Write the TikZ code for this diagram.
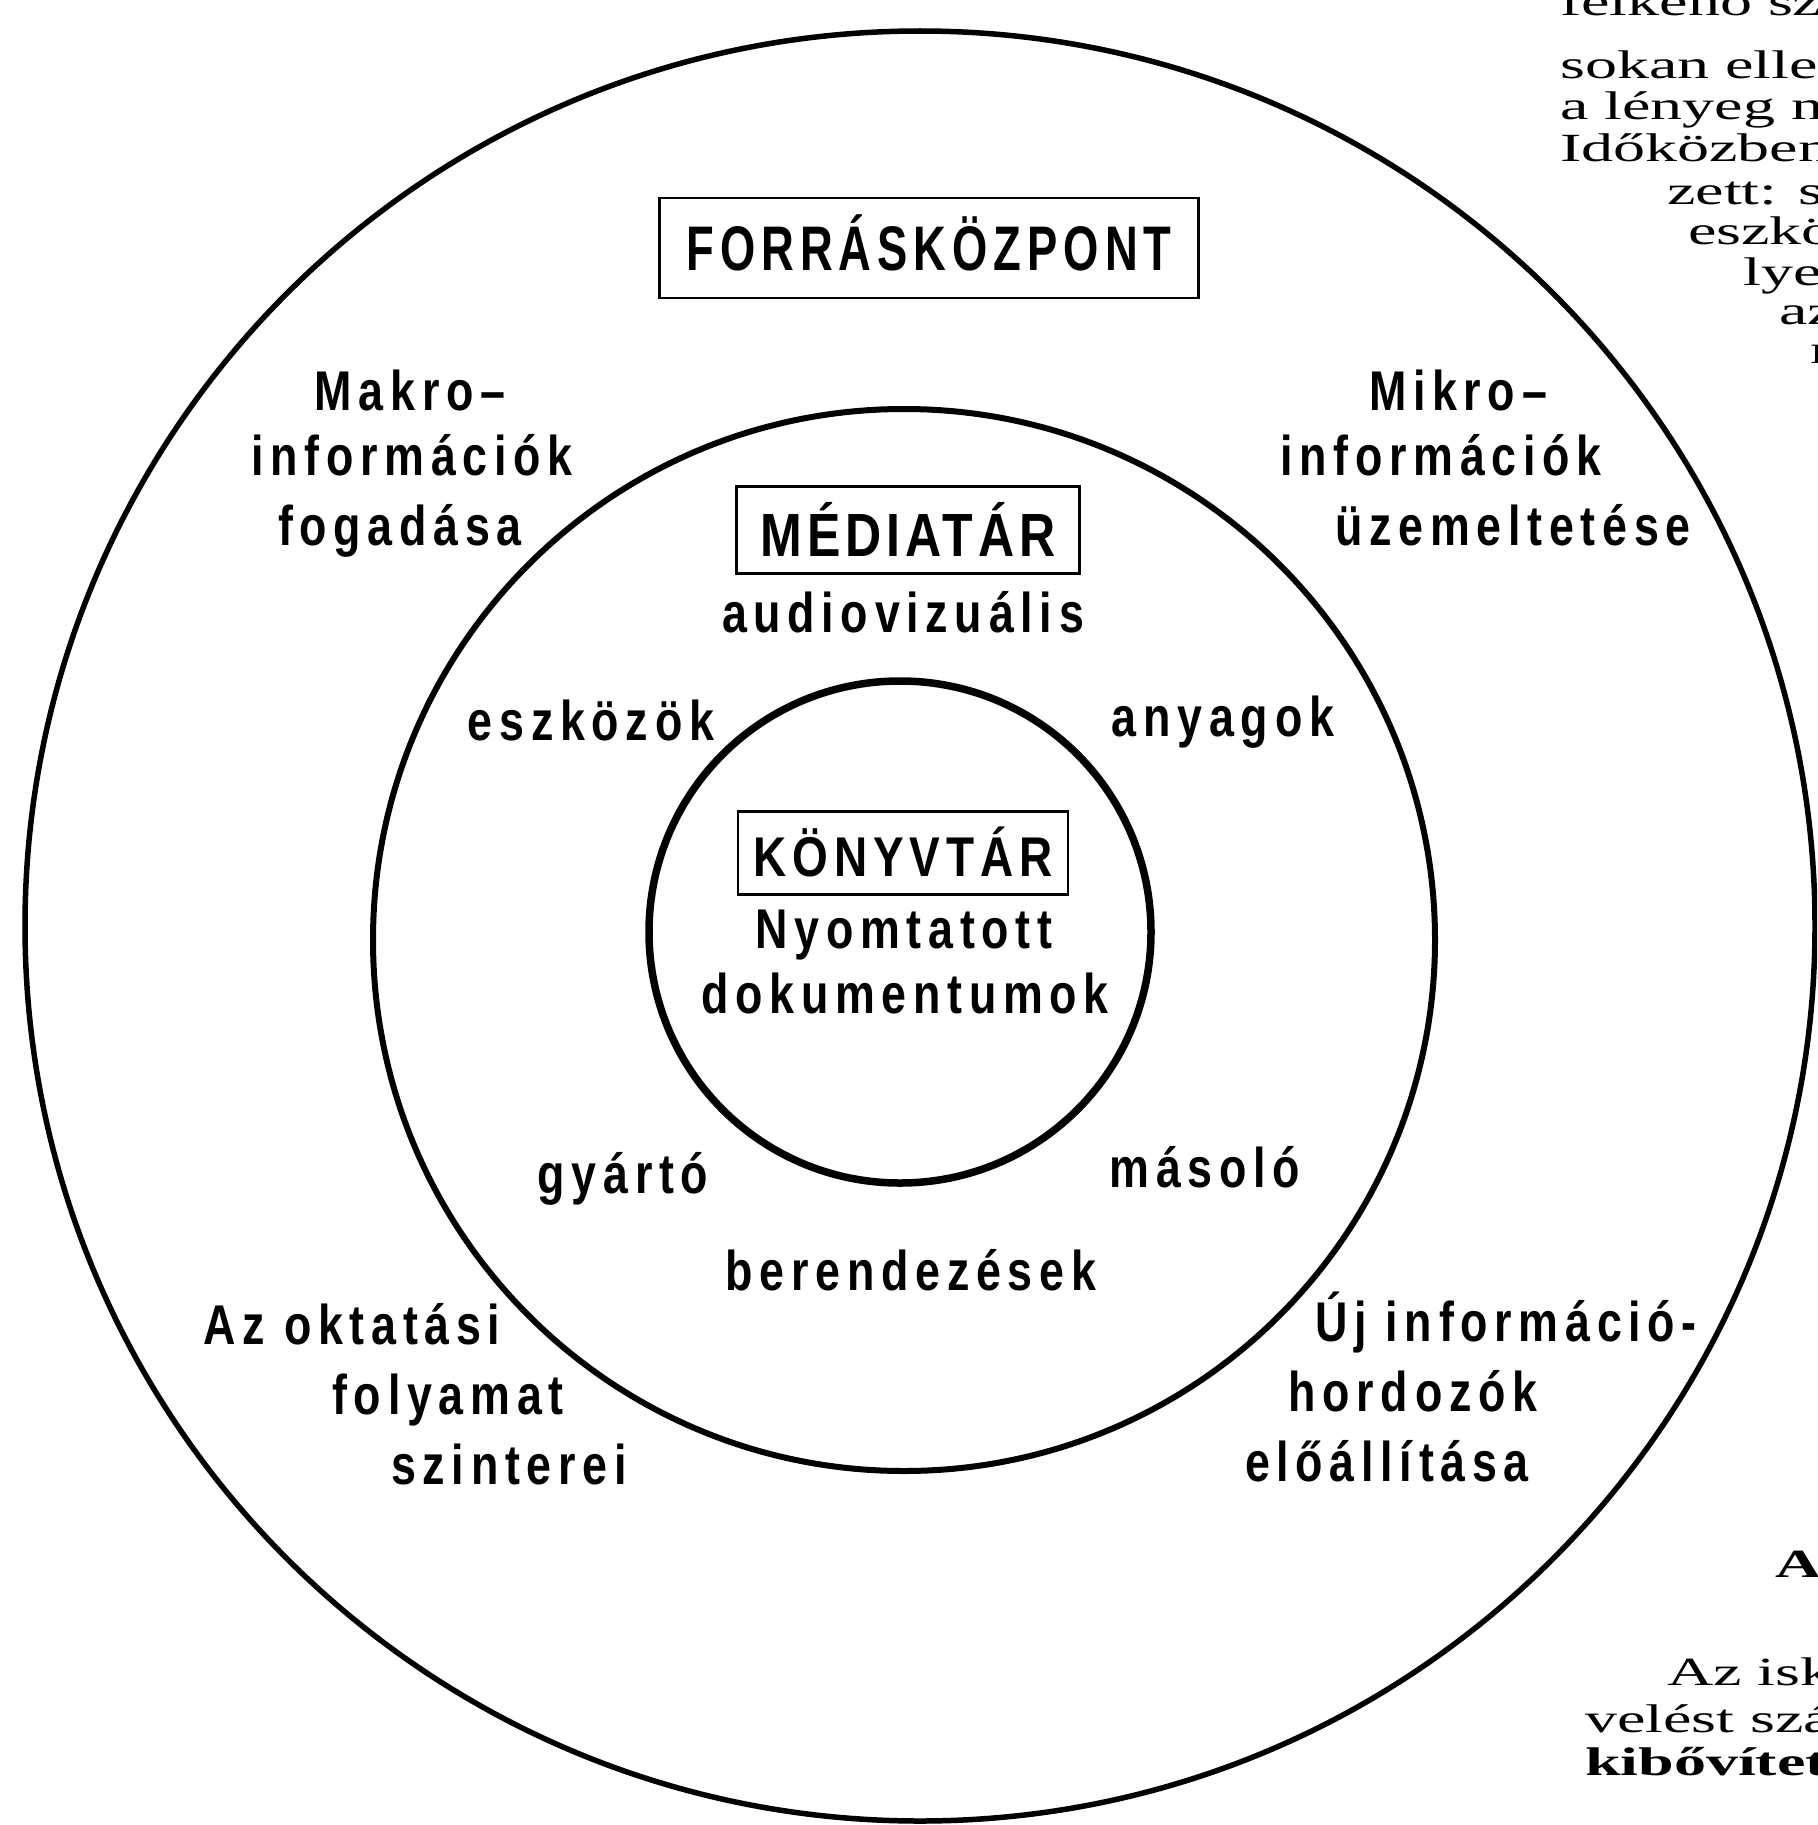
\documentclass[tikz,border=0pt]{standalone}
\usepackage{fontspec}
\newfontfamily\lab{Liberation Sans}[FakeStretch=0.8,LetterSpace=12]
\newfontfamily\capsf{Liberation Sans}[FakeStretch=0.72]
\newfontfamily\capsw{Liberation Sans}[FakeStretch=0.82]
\newfontfamily\pg{Liberation Serif}[FakeStretch=1.6]
\begin{document}
\begin{tikzpicture}[x=1pt,y=-1pt,
  lbl/.style={font=\lab\bfseries\fontsize{56}{60}\selectfont, anchor=base, inner sep=0pt},
  boxlbl/.style={draw, line width=2.5pt, inner sep=0pt, text height=#1, text depth=0pt},
  pgtxt/.style={font=\pg\fontsize{40}{41}\selectfont, anchor=base west, inner sep=0pt},
  pgbold/.style={font=\pg\bfseries\fontsize{40}{41}\selectfont, anchor=base west, inner sep=0pt}]
\useasboundingbox (0,0) rectangle (1817,1825);
\begin{scope}
\clip (0,0) rectangle (1817,1825);
% circles
\coordinate (C0) at (920,926);
\coordinate (C1) at (904,940);
\coordinate (C2) at (900,932);
\draw[line width=5.5pt] (C0) circle[radius=895pt];
\draw[line width=6pt] (C1) circle[radius=531pt];
\draw[line width=7.5pt] (C2) circle[radius=251pt];
% boxed titles
\node[boxlbl=44pt, minimum width=539pt, minimum height=100pt,
  font=\capsf\bfseries\fontsize{63}{66}\selectfont\addfontfeature{LetterSpace=9.5}] (forras) at (929,248) {FORRÁSKÖZPONT};
\node[boxlbl=52pt, minimum width=343pt, minimum height=87pt,
  font=\capsw\bfseries\fontsize{61}{64}\selectfont\addfontfeature{LetterSpace=8}] (media) at (908,530) {MÉDIATÁR};
\node[boxlbl=47pt, minimum width=330pt, minimum height=83pt,
  font=\capsw\bfseries\fontsize{56}{60}\selectfont\addfontfeature{LetterSpace=10.5}] (konyv) at (903,853) {KÖNYVTÁR};
% labels
\node[lbl] (makro1) at (410,410) {Makro–};
\node[lbl] (makro2) at (412,475) {információk};
\node[lbl] (makro3) at (400,545) {fogadása};
\node[lbl] (mikro1) at (1458,410) {Mikro–};
\node[lbl] (mikro2) at (1441,475) {információk};
\node[lbl] (mikro3) at (1513,545) {üzemeltetése};
\node[lbl] (audio) at (903,632) {audiovizuális};
\node[lbl] (eszk) at (591,740) {eszközök};
\node[lbl] (anyag) at (1223,736) {anyagok};
\node[lbl] (nyomt) at (904,948) {Nyomtatott};
\node[lbl] (dokum) at (905,1013) {dokumentumok};
\node[lbl] (gyarto) at (623,1193) {gyártó};
\node[lbl] (masolo) at (1205,1187) {másoló};
\node[lbl] (berend) at (911,1290) {berendezések};
\node[lbl] (okt1) at (352,1344) {Az oktatási};
\node[lbl] (okt2) at (448,1414) {folyamat};
\node[lbl] (okt3) at (509,1484) {szinterei};
\node[lbl] (uj1) at (1506,1341) {Új információ-};
\node[lbl] (uj2) at (1413,1411) {hordozók};
\node[lbl] (uj3) at (1387,1481) {előállítása};
% page text fragments at right
\node[pgtxt] (p0) at (1560,16) {felkenő sz};
\node[pgtxt] (p1) at (1560,79) {sokan ellen};
\node[pgtxt] (p2) at (1560,120) {a lényeg nem};
\node[pgtxt] (p3) at (1560,161) {Időközben};
\node[pgtxt] (p4) at (1667,204) {zett: szá};
\node[pgtxt] (p5) at (1688,244) {eszköz};
\node[pgtxt] (p6) at (1743,285) {lyen};
\node[pgtxt] (p7) at (1779,324) {az};
\node[pgtxt] (p8) at (1810,363) {n};
\node[pgbold] (q0) at (1775,1577) {A};
\node[pgtxt] (q1) at (1667,1685) {Az iskola};
\node[pgtxt] (q2) at (1585,1732) {velést szá};
\node[pgbold] (q3) at (1585,1775) {kibővített};
\end{scope}
\end{tikzpicture}
\end{document}
